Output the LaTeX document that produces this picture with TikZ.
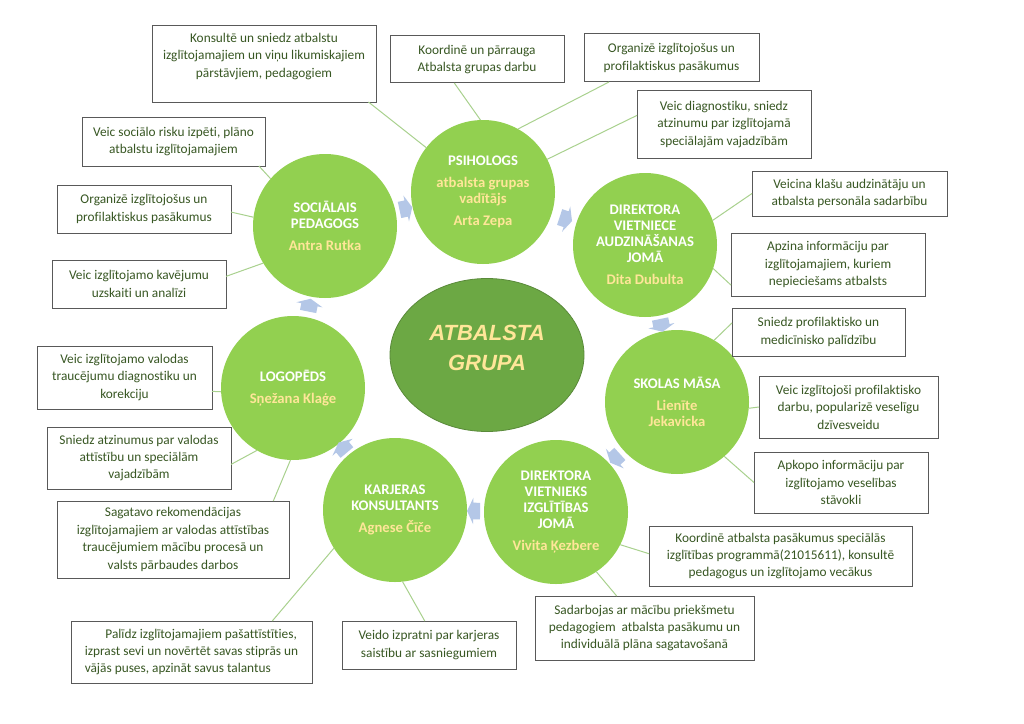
\documentclass[tikz,border=0pt]{standalone}
\usepackage{fontspec}
\setmainfont{Carlito}[Ligatures=NoCommon]
\newfontfamily\arialfont{Liberation Sans}
\usetikzlibrary{shapes.geometric,shapes.arrows}
\definecolor{circgreen}{HTML}{92D050}
\definecolor{centgreen}{HTML}{6CA844}
\definecolor{centedge}{HTML}{5A8A3A}
\definecolor{nameyellow}{HTML}{FFE699}
\definecolor{boxtext}{HTML}{385723}
\definecolor{boxedge}{HTML}{595959}
\definecolor{linegreen}{HTML}{A9D18E}
\definecolor{arrowblue}{HTML}{B4C7E7}
\begin{document}
\begin{tikzpicture}[x=0.75pt,y=-0.75pt,
  role/.style={circle, fill=circgreen, draw=none, minimum size=108pt, inner sep=0pt, outer sep=0pt,
    align=center, text=white, font=\fontsize{11}{12}\selectfont\bfseries},
  infobox/.style={draw=boxedge, line width=0.75pt, fill=white, inner sep=0pt, outer sep=0pt,
    align=center, text=boxtext, font=\fontsize{10}{13.1}\selectfont},
  boxtxt/.style={inner sep=0pt, align=center, text=boxtext, font=\fontsize{10}{13.1}\selectfont},
  conn/.style={draw=linegreen, line width=0.75pt},
  flowarrow/.style={single arrow, fill=arrowblue, draw=none, sloped, allow upside down, midway,
    inner sep=0pt, text height=6pt, text depth=6pt, single arrow head extend=3.75pt,
    single arrow tip angle=130, minimum height=9.75pt}
]
\useasboundingbox (0,0) rectangle (1024,724);
\fill[white] (0,0) rectangle (1024,724);

% central ellipse
\node[ellipse, fill=centgreen, draw=centedge, line width=0.6pt, minimum width=194*0.75pt,
  minimum height=153*0.75pt, inner sep=0pt] (core) at (487,355) {};
\node[font={\arialfont\fontsize{16.5}{22.5}\selectfont\bfseries\itshape}, text=nameyellow, align=center]
  (coretext) at (487,348) {ATBALSTA\\GRUPA};

% role circles
\node[role] (c1) at (483,192) {PSIHOLOGS\\[4.5pt]\textcolor{nameyellow}{atbalsta grupas}\\\textcolor{nameyellow}{vadītājs}\\[4.5pt]\textcolor{nameyellow}{Arta Zepa}};
\node[role] (c2) at (645,245) {DIREKTORA\\VIETNIECE\\AUDZINĀŠANAS\\JOMĀ\\[4.5pt]\textcolor{nameyellow}{Dita Dubulta}};
\node[role] (c3) at (677,402) {SKOLAS MĀSA\\[4.5pt]\textcolor{nameyellow}{Lienīte}\\\textcolor{nameyellow}{Jekavicka}};
\node[role] (c4) at (556,512) {DIREKTORA\\VIETNIEKS\\IZGLĪTĪBAS\\JOMĀ\\[4.5pt]\textcolor{nameyellow}{Vivita Ķezbere}};
\node[role] (c5) at (395,510) {KARJERAS\\KONSULTANTS\\[4.5pt]\textcolor{nameyellow}{Agnese Čīče}};
\node[role] (c6) at (293,388) {LOGOPĒDS\\[4.5pt]\textcolor{nameyellow}{Sņežana Klaģe}};
\node[role] (c7) at (325,226) {SOCIĀLAIS\\PEDAGOGS\\[4.5pt]\textcolor{nameyellow}{Antra Rutka}};

% flow arrows
\path (c7) -- node[flowarrow] (a1) {} (c1);
\path (c1) -- node[flowarrow] (a2) {} (c2);
\path (c2) -- node[flowarrow] (a3) {} (c3);
\path (c3) -- node[flowarrow] (a4) {} (c4);
\path (c4) -- node[flowarrow] (a5) {} (c5);
\path (c5) -- node[flowarrow] (a6) {} (c6);
\path (c6) -- node[flowarrow] (a7) {} (c7);

% boxes
\node[infobox, minimum width=224*0.75pt, minimum height=76*0.75pt] (b1) at (264,64) {};
\node[boxtxt] (t1) at (264,56.5) {Konsultē un sniedz atbalstu\\izglītojamajiem un viņu likumiskajiem\\pārstāvjiem, pedagogiem};
\node[infobox, minimum width=183*0.75pt, minimum height=49*0.75pt] (b2) at (173.5,141.5) {Veic sociālo risku izpēti, plāno\\atbalstu izglītojamajiem};
\node[infobox, minimum width=174*0.75pt, minimum height=48*0.75pt] (b3) at (144,209) {Organizē izglītojošus un\\profilaktiskus pasākumus};
\node[infobox, minimum width=174*0.75pt, minimum height=48*0.75pt] (b4) at (139,284) {Veic izglītojamo kavējumu\\uzskaiti un analīzi};
\node[infobox, minimum width=174*0.75pt, minimum height=47*0.75pt] (b5) at (477,59.5) {Koordinē un pārrauga\\Atbalsta grupas darbu};
\node[infobox, minimum width=175*0.75pt, minimum height=48*0.75pt] (b6) at (671.5,58) {Organizē izglītojošus un\\profilaktiskus pasākumus};
\node[infobox, minimum width=174*0.75pt, minimum height=67*0.75pt] (b7) at (724,124.5) {Veic diagnostiku, sniedz\\atzinumu par izglītojamā\\speciālajām vajadzībām};
\node[infobox, minimum width=195*0.75pt, minimum height=45*0.75pt] (b8) at (849.5,193.5) {Veicina klašu audzinātāju un\\atbalsta personāla sadarbību};
\node[infobox, minimum width=194*0.75pt, minimum height=63*0.75pt] (b9) at (828,264.5) {Apzina informāciju par\\izglītojamajiem, kuriem\\nepieciešams atbalsts};
\node[infobox, minimum width=173*0.75pt, minimum height=48*0.75pt] (b10) at (818.5,332) {Sniedz profilaktisko un\\medicīnisko palīdzību};
\node[infobox, minimum width=179*0.75pt, minimum height=62*0.75pt] (b11) at (848.5,407) {Veic izglītojoši profilaktisko\\darbu, popularizē veselīgu\\dzīvesveidu};
\node[infobox, minimum width=174*0.75pt, minimum height=61*0.75pt] (b12) at (841,482.5) {Apkopo informāciju par\\izglītojamo veselības\\stāvokli};
\node[infobox, minimum width=263*0.75pt, minimum height=60*0.75pt] (b13) at (780.5,556) {Koordinē atbalsta pasākumus speciālās\\izglītības programmā(21015611), konsultē\\pedagogus un izglītojamo vecākus};
\node[infobox, minimum width=219*0.75pt, minimum height=64*0.75pt] (b14) at (644.5,628) {Sadarbojas ar mācību priekšmetu\\pedagogiem\ \ atbalsta pasākumu un\\individuālā plāna sagatavošanā};
\node[infobox, minimum width=175*0.75pt, minimum height=63*0.75pt] (b15) at (124.5,377.5) {Veic izglītojamo valodas\\traucējumu diagnostiku un\\korekciju};
\node[infobox, minimum width=184*0.75pt, minimum height=62*0.75pt] (b16) at (139,458) {Sniedz atzinumus par valodas\\attīstību un speciālām\\vajadzībām};
\node[infobox, minimum width=232*0.75pt, minimum height=77*0.75pt] (b17) at (173,539.5) {Sagatavo rekomendācijas\\izglītojamajiem ar valodas attīstības\\traucējumiem mācību procesā un\\valsts pārbaudes darbos};
\node[infobox, align=left, minimum width=241*0.75pt, minimum height=62*0.75pt] (b18) at (191.5,652) {\hspace*{15.5pt}Palīdz izglītojamajiem pašattīstīties,\\izprast sevi un novērtēt savas stiprās un\\vājās puses, apzināt savus talantus};
\node[infobox, minimum width=174*0.75pt, minimum height=48*0.75pt] (b19) at (429,645) {Veido izpratni par karjeras\\saistību ar sasniegumiem};

% connectors
\draw[conn] (b1.-20) -- (c1.142);
\draw[conn] (b5.-134) -- (c1.92);
\draw[conn] (b6.-159) -- (c1.61);
\draw[conn] (b7.174) -- (c1.27);
\draw[conn] (b2.-16) -- (c7.139);
\draw[conn] (b3.-2) -- (c7.173);
\draw[conn] (b4.5) -- (c7.211);
\draw[conn] (b8.180) -- (c2.20);
\draw[conn] (b9.-168) -- (c2.-19);
\draw[conn] (b10.174) -- (c3.59);
\draw[conn] (b11.180) -- (c3.-5);
\draw[conn] (b12.180) -- (c3.-49);
\draw[conn] (b13.179) -- (c4.-27);
\draw[conn] (b14.131) -- (c4.-56);
\draw[conn] (b19.100) -- (c5.-84);
\draw[conn] (b18.21) -- (c5.-148);
\draw[conn] (b15.-9) -- (c6.183);
\draw[conn] (b16.-4) -- (c6.240);
\draw[conn] (b17.21) -- (c6.268);
\end{tikzpicture}
\end{document}
